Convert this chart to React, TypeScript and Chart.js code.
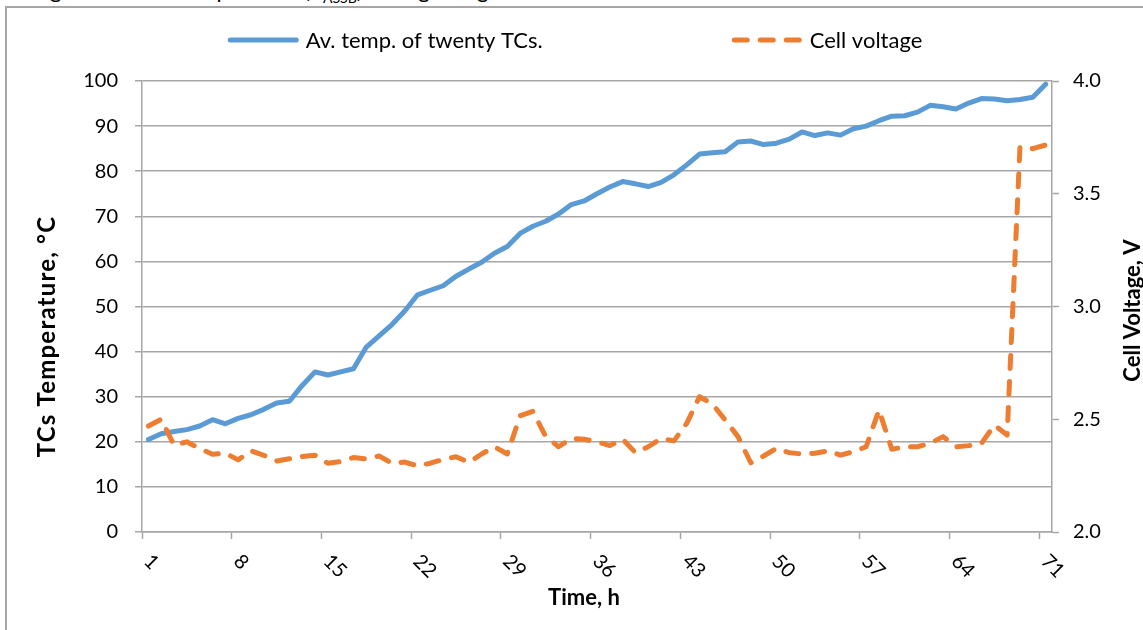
import React, { useEffect, useRef } from "react";
import { Chart, registerables } from "chart.js";

Chart.register(...registerables);

const FONT = "Lato, 'Open Sans', 'DejaVu Sans', sans-serif";
const GRID = "#a6a6a6";
const BLUE = "#5b9bd5";
const ORANGE = "#ed7d31";

const hours = [
  "1", "2", "3", "4", "5", "6", "7", "8", "9", "10",
  "11", "12", "13", "14", "15", "16", "17", "18", "19", "20",
  "21", "22", "23", "24", "25", "26", "27", "28", "29", "30",
  "31", "32", "33", "34", "35", "36", "37", "38", "39", "40",
  "41", "42", "43", "44", "45", "46", "47", "48", "49", "50",
  "51", "52", "53", "54", "55", "56", "57", "58", "59", "60",
  "61", "62", "63", "64", "65", "66", "67", "68", "69", "70",
  "71",
];

const shownHourLabels = ["1", "8", "15", "22", "29", "36", "43", "50", "57", "64", "71"];

const avgTemp = [
  20.5, 21.8, 22.3, 22.7, 23.5, 24.9, 24.0, 25.2, 26.0, 27.2,
  28.6, 29.0, 32.5, 35.5, 34.8, 35.5, 36.2, 41.0, 43.5, 46.0,
  49.0, 52.6, 53.6, 54.6, 56.7, 58.3, 59.8, 61.8, 63.3, 66.2,
  67.8, 68.9, 70.5, 72.6, 73.4, 75.0, 76.5, 77.7, 77.2, 76.6,
  77.5, 79.2, 81.4, 83.8, 84.1, 84.3, 86.5, 86.7, 85.9, 86.2,
  87.1, 88.7, 87.9, 88.5, 88.0, 89.4, 90.0, 91.2, 92.2, 92.3,
  93.1, 94.6, 94.3, 93.8, 95.1, 96.1, 96.0, 95.6, 95.9, 96.4,
  99.3,
];

const cellVoltage = [
  2.47, 2.5, 2.385, 2.4, 2.37, 2.345, 2.35, 2.32, 2.36, 2.34,
  2.315, 2.325, 2.335, 2.34, 2.305, 2.312, 2.33, 2.324, 2.337, 2.305,
  2.31, 2.293, 2.305, 2.322, 2.334, 2.309, 2.346, 2.378, 2.346, 2.515,
  2.535, 2.423, 2.378, 2.415, 2.411, 2.4, 2.383, 2.412, 2.352, 2.378,
  2.415, 2.404, 2.482, 2.6, 2.568, 2.497, 2.423, 2.307, 2.337, 2.371,
  2.352, 2.346, 2.349, 2.36, 2.341, 2.356, 2.378, 2.541, 2.367, 2.378,
  2.378, 2.393, 2.423, 2.378, 2.383, 2.393, 2.474, 2.43, 3.707, 3.7,
  3.716,
];

const seriesNames = ["Av. temp. of twenty TCs.", "Cell voltage"];
const xTitle = "Time, h";
const yTitle = "TCs Temperature, °C";
const y1Title = "Cell Voltage, V";

const overlayPlugin = {
  id: "excelOverlay",
  afterDraw(chart: any) {
    const { ctx, chartArea } = chart;
    const xs = chart.scales.x;
    const midY = (chartArea.top + chartArea.bottom) / 2;
    ctx.save();

    // rotated category labels
    ctx.font = `20px ${FONT}`;
    ctx.fillStyle = "#000";
    ctx.textAlign = "left";
    ctx.textBaseline = "middle";
    xs.getLabels().forEach((lab: string, i: number) => {
      if (!shownHourLabels.includes(lab)) return;
      const px = xs.getPixelForValue(i);
      ctx.save();
      ctx.translate(px - 1, chartArea.bottom + 26);
      ctx.rotate(Math.PI / 4);
      ctx.fillText(lab, 0, 0);
      ctx.restore();
    });

    // x title
    ctx.font = `bold 22px ${FONT}`;
    ctx.textAlign = "center";
    ctx.textBaseline = "middle";
    const cx = (chartArea.left + chartArea.right) / 2 - 13;
    ctx.fillText(xTitle, cx, chartArea.bottom + 66);

    // right title (reads bottom to top)
    ctx.save();
    ctx.translate(chart.width - 10, midY + 4);
    ctx.rotate(-Math.PI / 2);
    ctx.fillText(y1Title, 0, 0);
    ctx.restore();

    // left title (reads bottom to top)
    ctx.font = `bold 24px ${FONT}`;
    ctx.save();
    try {
      (ctx as any).letterSpacing = "1.2px";
    } catch (e) {}
    ctx.translate(47, midY + 30);
    ctx.rotate(-Math.PI / 2);
    ctx.fillText(yTitle, 0, 0);
    ctx.restore();

    // legend
    ctx.font = `22px ${FONT}`;
    ctx.textAlign = "left";
    const lineLen = 66;
    const cap = 2.5;
    const textGap = 7;
    const itemGap = 189;
    const items = chart.data.datasets.map((ds: any) => ({
      text: ds.label,
      color: ds.borderColor,
      dash: ds.borderDash || [],
      width: lineLen + 2 * cap + textGap + ctx.measureText(ds.label).width,
    }));
    const total = items.reduce((s: number, it: any) => s + it.width, 0) + itemGap * (items.length - 1);
    let x = chart.width / 2 + 3.5 - total / 2;
    const ly = 40;
    items.forEach((it: any) => {
      ctx.save();
      ctx.strokeStyle = it.color;
      ctx.lineWidth = 5;
      ctx.lineCap = "round";
      ctx.setLineDash(it.dash);
      ctx.beginPath();
      ctx.moveTo(x + cap, ly);
      ctx.lineTo(x + cap + lineLen, ly);
      ctx.stroke();
      ctx.restore();
      ctx.fillStyle = "#000";
      ctx.fillText(it.text, x + 2 * cap + lineLen + textGap, ly + 1);
      x += it.width + itemGap;
    });

    ctx.restore();
  },
};

export default function App() {
  const canvasRef = useRef<HTMLCanvasElement | null>(null);

  useEffect(() => {
    if (!canvasRef.current) return;
    const chart = new Chart(canvasRef.current, {
      type: "line",
      data: {
        labels: hours,
        datasets: [
          {
            label: seriesNames[0],
            data: avgTemp,
            yAxisID: "y",
            borderColor: BLUE,
            backgroundColor: BLUE,
            borderWidth: 5,
            borderCapStyle: "round",
            borderJoinStyle: "round",
            pointRadius: 0,
            tension: 0,
            order: 1,
          },
          {
            label: seriesNames[1],
            data: cellVoltage,
            yAxisID: "y1",
            borderColor: ORANGE,
            backgroundColor: ORANGE,
            borderWidth: 5,
            borderDash: [13, 13],
            borderCapStyle: "round",
            borderJoinStyle: "round",
            pointRadius: 0,
            tension: 0,
            order: 0,
          },
        ],
      },
      options: {
        responsive: false,
        animation: false,
        devicePixelRatio: 1,
        layout: { padding: { top: 81, left: 0, right: 0, bottom: 0 } },
        plugins: {
          legend: { display: false },
          tooltip: { enabled: false },
          title: { display: false },
        },
        scales: {
          x: {
            type: "category",
            offset: true,
            afterFit: (s: any) => {
              s.height = 98;
            },
            grid: {
              display: true,
              drawOnChartArea: false,
              offset: true,
              drawTicks: true,
              tickLength: 7,
              tickWidth: 1.5,
              color: "rgba(0,0,0,0)",
              tickColor: (c: any) =>
                typeof c.index === "number" && c.index % 7 === 0 ? GRID : "rgba(0,0,0,0)",
            },
            border: { display: true, color: GRID, width: 1.5 },
            ticks: { display: false, autoSkip: false },
          },
          y: {
            type: "linear",
            position: "left",
            min: 0,
            max: 100,
            afterFit: (s: any) => {
              s.width = 142;
            },
            ticks: {
              stepSize: 10,
              padding: 17,
              color: "#000",
              font: { family: FONT, size: 20 },
            },
            grid: {
              color: GRID,
              lineWidth: 1.5,
              tickLength: 7,
              tickColor: GRID,
              tickWidth: 1.5,
            },
            border: { display: true, color: GRID, width: 1.5 },
          },
          y1: {
            type: "linear",
            position: "right",
            min: 2,
            max: 4,
            afterFit: (s: any) => {
              s.width = 91;
            },
            ticks: {
              stepSize: 0.5,
              padding: 14,
              color: "#000",
              font: { family: FONT, size: 20 },
              callback: (v: any) => Number(v).toFixed(1),
            },
            grid: {
              drawOnChartArea: false,
              tickLength: 7,
              tickColor: GRID,
              tickWidth: 1.5,
            },
            border: { display: true, color: GRID, width: 1.5 },
          },
        },
      },
      plugins: [overlayPlugin],
    });
    return () => chart.destroy();
  }, []);

  return (
    <div
      style={{
        position: "fixed",
        left: 0,
        top: 0,
        width: 1143,
        height: 630,
        overflow: "hidden",
        background: "#fff",
      }}
    >
      <div
        style={{
          position: "absolute",
          left: 4,
          top: -21,
          fontFamily: FONT,
          fontSize: 22,
          lineHeight: "22px",
          whiteSpace: "nowrap",
          color: "#000",
        }}
      >
        change of the cell temperature (T<sub style={{ fontSize: 14 }}>ASSB</sub>) during charge
      </div>
      <div
        style={{
          position: "absolute",
          left: 5,
          top: 6,
          width: 1200,
          height: 700,
          border: "2px solid #a6a6a6",
          boxSizing: "border-box",
        }}
      />
      <canvas
        ref={canvasRef}
        width={1143}
        height={630}
        style={{ position: "absolute", left: 0, top: 0, width: 1143, height: 630 }}
      />
    </div>
  );
}
